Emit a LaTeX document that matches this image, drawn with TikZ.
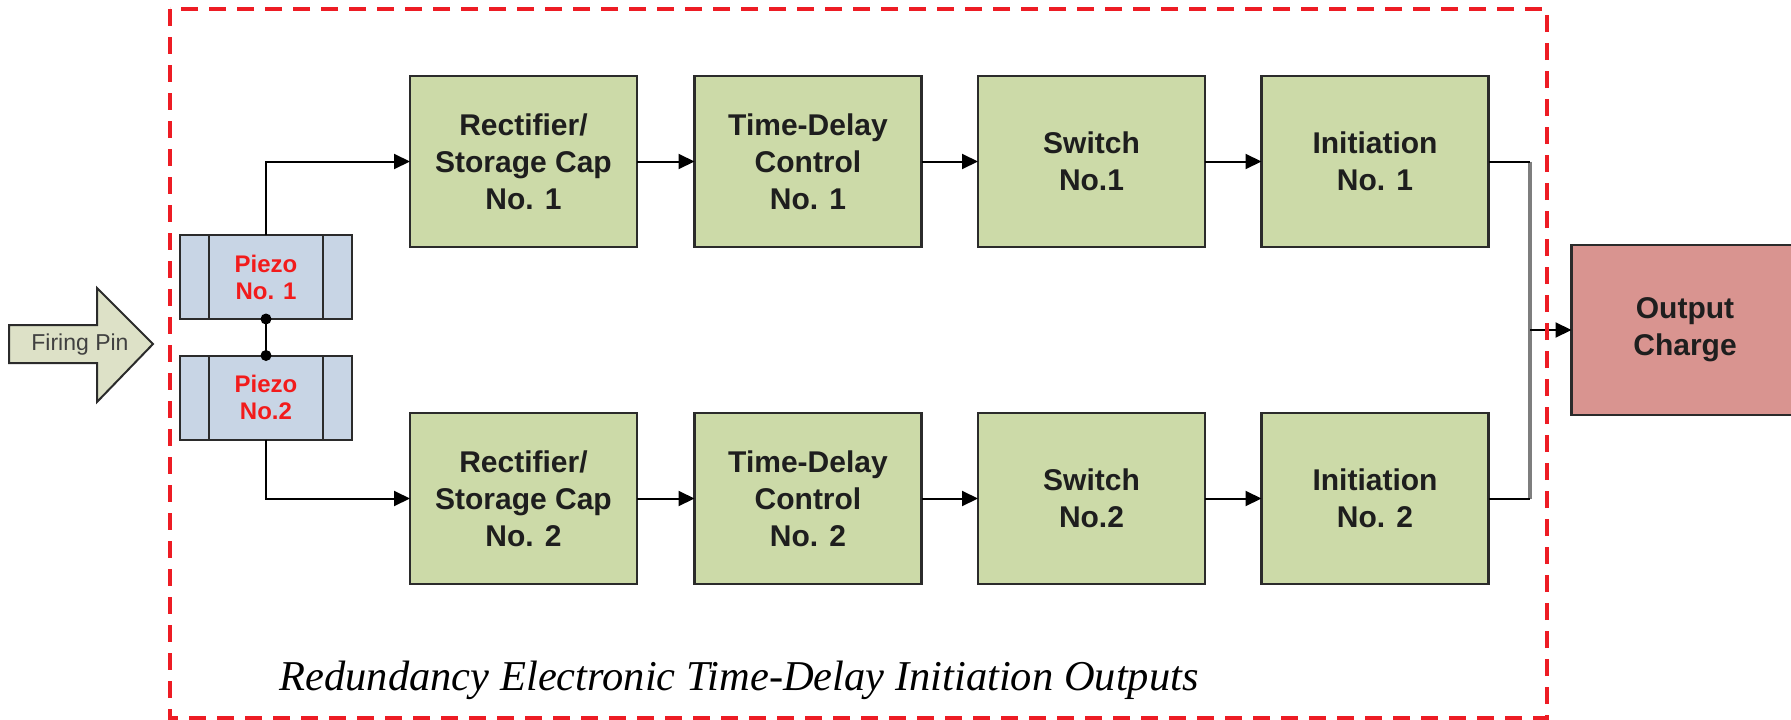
\documentclass[tikz,border=0pt]{standalone}
\usepackage{fontspec}
\setmainfont{Liberation Sans}
\newfontfamily\capfont{Liberation Serif}
\usetikzlibrary{arrows.meta}

\definecolor{blockgreen}{HTML}{CCDAA8}
\definecolor{piezoblue}{HTML}{C8D5E5}
\definecolor{chargered}{HTML}{D99490}
\definecolor{pinfill}{HTML}{DDE1C7}
\definecolor{framered}{HTML}{ED1C24}
\definecolor{edgegray}{HTML}{2B2B2B}
\definecolor{piezotext}{HTML}{F21B1B}
\definecolor{busgray}{HTML}{7E7E7E}
\definecolor{blocktext}{HTML}{1E1E1E}

\begin{document}
\begin{tikzpicture}[x=1pt,y=-1pt,
  block/.style={draw=edgegray, line width=2.5pt, fill=blockgreen,
    minimum width=227pt, minimum height=171pt, inner sep=0pt, outer sep=0pt,
    align=center, text=blocktext, font=\bfseries\fontsize{30}{37}\selectfont},
  piezo/.style={draw=edgegray, line width=2pt, fill=piezoblue,
    minimum width=172pt, minimum height=84pt, inner sep=0pt, outer sep=0pt,
    align=center, text=piezotext, font=\bfseries\fontsize{24}{27}\selectfont},
  wire/.style={line width=2pt, -{Triangle[length=16pt,width=15pt]}},
  plainwire/.style={line width=2pt},
  busline/.style={line width=3.5pt, busgray},
  frameline/.style={framered, line width=4pt, dash pattern=on 17pt off 11pt}
]
\useasboundingbox (0,0) rectangle (1791,720);

% firing pin arrow
\draw[draw=edgegray, line width=2pt, fill=pinfill]
  (9,325) -- (97,325) -- (97,288) -- (153,344) -- (97,402) -- (97,363) -- (9,363) -- cycle;
\node[text=black!75, font=\fontsize{23}{23}\selectfont] (pin) at (80,345) {Firing Pin};

% piezo elements
\node[piezo] (pz1) at (266,277) {Piezo\\No. 1};
\node[piezo] (pz2) at (266,397.5) {Piezo\\No.2};
\foreach \p in {pz1,pz2}{
  \draw[edgegray, line width=2pt] ([xshift=29pt]\p.north west) -- ([xshift=29pt]\p.south west);
  \draw[edgegray, line width=2pt] ([xshift=-29pt]\p.north east) -- ([xshift=-29pt]\p.south east);
}
\draw[plainwire] (pz1.south) -- (pz2.north);
\fill (pz1.south) circle (5.5pt);
\fill (pz2.north) circle (5.5pt);

% channel 1
\node[block] (r1) at (523.5,161.5) {Rectifier/\\Storage Cap\\No. 1};
\node[block] (t1) at (808,161.5) {Time-Delay\\Control\\No. 1};
\node[block] (s1) at (1091.5,161.5) {Switch\\No.1};
\node[block] (i1) at (1375,161.5) {Initiation\\No. 1};

% channel 2
\node[block] (r2) at (523.5,498.5) {Rectifier/\\Storage Cap\\No. 2};
\node[block] (t2) at (808,498.5) {Time-Delay\\Control\\No. 2};
\node[block] (s2) at (1091.5,498.5) {Switch\\No.2};
\node[block] (i2) at (1375,498.5) {Initiation\\No. 2};

% output
\node[block, fill=chargered, minimum height=170pt] (out) at (1685,330) {Output\\Charge};

% connectors
\draw[wire] (pz1.north) |- (r1.west);
\draw[wire] (pz2.south) |- (r2.west);
\draw[wire] (r1) -- (t1);
\draw[wire] (t1) -- (s1);
\draw[wire] (s1) -- (i1);
\draw[wire] (r2) -- (t2);
\draw[wire] (t2) -- (s2);
\draw[wire] (s2) -- (i2);

\coordinate (bus) at (1530,330);
\draw[busline] (i1.east -| bus) -- (i2.east -| bus);
\draw[plainwire] (i1.east) -- (i1.east -| bus);
\draw[plainwire] (i2.east) -- (i2.east -| bus);
\draw[wire] (bus) -- (out.west);

% dashed enclosure and its caption
\draw[frameline] (170,9) rectangle (1547,718);
\node[anchor=base west, font=\capfont\itshape\fontsize{42.5}{50}\selectfont] (caption) at (276,690)
  {Redundancy Electronic Time-Delay Initiation Outputs};
\end{tikzpicture}
\end{document}
